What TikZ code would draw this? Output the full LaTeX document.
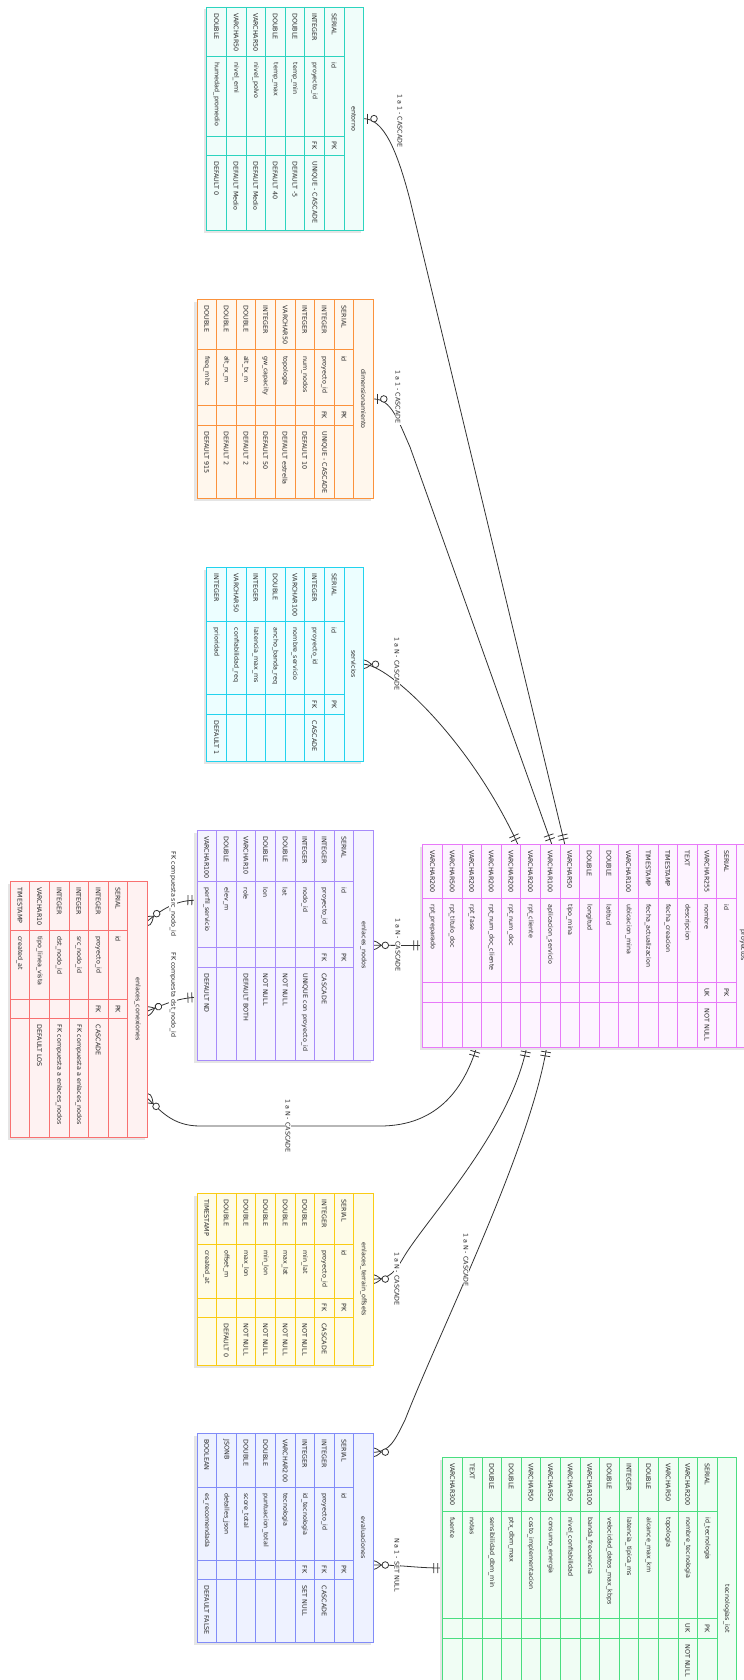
\documentclass[tikz,border=0pt]{standalone}
\usepackage{fontspec}
\setmainfont{DejaVu Sans}
\usetikzlibrary{calc,decorations.markings}
\pgfdeclarelayer{back}
\pgfdeclarelayer{edges}
\pgfsetlayers{back,edges,main}

\definecolor{txtc}{HTML}{2A2A2A}
\definecolor{edgec}{HTML}{333333}
\definecolor{entline}{HTML}{2DD4BF}\definecolor{entfill}{HTML}{F0FDFA}
\definecolor{dimline}{HTML}{FB923C}\definecolor{dimfill}{HTML}{FFF7ED}
\definecolor{srvline}{HTML}{22D3EE}\definecolor{srvfill}{HTML}{ECFEFF}
\definecolor{nodline}{HTML}{A78BFA}\definecolor{nodfill}{HTML}{F5F3FF}
\definecolor{cnxline}{HTML}{F87171}\definecolor{cnxfill}{HTML}{FEF2F2}
\definecolor{pryline}{HTML}{E879F9}\definecolor{pryfill}{HTML}{FDF4FF}
\definecolor{terline}{HTML}{FACC15}\definecolor{terfill}{HTML}{FEFCE8}
\definecolor{evlline}{HTML}{818CF8}\definecolor{evlfill}{HTML}{EEF2FF}
\definecolor{tecline}{HTML}{4ADE80}\definecolor{tecfill}{HTML}{F0FDF4}

\newcommand{\rowh}{19.6}
\newcommand{\pad}{6}
\newcommand{\ttlshift}{0}
\newcommand{\erfs}{\fontsize{6.4}{7.5}\selectfont}

\newcommand{\ertab}[5]{%
  \foreach \rr [count=\ii] in {#5} {\xdef\nrows{\ii}}%
  \pgfmathsetmacro{\xR}{#3}%
  \pgfmathsetmacro{\xL}{#3-(\nrows+1)*\rowh}%
  \pgfmathsetmacro{\tbw}{(\nrows+1)*\rowh}%
  \pgfmathsetmacro{\tbh}{\ye-\ya}%
  \fill[black!10] (\xL-2.5,\ya+2.5) rectangle (\xR-2.5,\ye+2.5);%
  \draw[draw=#2line, fill=#2fill, cell] (\xR-\rowh,\ya) rectangle (\xR,\ye);%
  \node[ttl] at (\xR-\rowh/2+\ttlshift,{(\ya+\ye)/2}) {#4};%
  \foreach \ty/\nm/\ky/\cm [count=\ri] in {#5} {%
    \pgfmathsetmacro{\xa}{#3-(\ri+1)*\rowh}%
    \pgfmathsetmacro{\xb}{#3-\ri*\rowh}%
    \pgfmathsetmacro{\xm}{#3-(\ri+0.5)*\rowh}%
    \draw[draw=#2line, fill=#2fill, cell] (\xa,\ya) rectangle (\xb,\yb) (\xa,\yb) rectangle (\xb,\yc) (\xa,\yc) rectangle (\xb,\yd) (\xa,\yd) rectangle (\xb,\ye);%
    \node[txt, anchor=west] at (\xm,\ya+\pad) {\ty};%
    \node[txt, anchor=west] at (\xm,\yb+\pad) {\nm};%
    \node[txt] at (\xm,{(\yc+\yd)/2}) {\ky};%
    \node[txt, anchor=west] at (\xm,\yd+\pad) {\cm};%
  }%
  \node[inner sep=0pt, outer sep=0pt, minimum width=\tbw bp, minimum height=\tbh bp] (#1) at ({(\xL+\xR)/2},{(\ya+\ye)/2}) {};%
}

\tikzset{
  txt/.style={rotate=-90, font=\erfs, text=txtc, inner sep=0pt},
  ttl/.style={rotate=-90, font=\erfs, text=txtc, inner sep=0pt},
  lbl/.style={rotate=-90, font=\erfs, text=txtc, fill=white, inner sep=1pt},
  cell/.style={line width=0.8},
  rel/.style={draw=edgec, line width=0.8},
  mk/.style={draw=edgec, line width=0.8},
  szo/.style={postaction={decorate,decoration={markings,mark=at position 0 with {\draw[mk] (4,-5)--(4,5); \draw[mk,fill=white] (10.5,0) circle (3.3);}}}},
  soo/.style={postaction={decorate,decoration={markings,mark=at position 0 with {\draw[mk] (5,-5)--(5,5) (9,-5)--(9,5);}}}},
  szm/.style={postaction={decorate,decoration={markings,mark=at position 0 with {\draw[mk] (-8,0) .. controls (0,-6) .. (8,0) .. controls (0,6) .. (-8,0); \draw[mk,fill=white] (12,0) circle (3.3);}}}},
  eoo/.style={postaction={decorate,decoration={markings,mark=at position 0.99999 with {\draw[mk] (-5,-5)--(-5,5) (-9,-5)--(-9,5);}}}},
  ezm/.style={postaction={decorate,decoration={markings,mark=at position 0.99999 with {\draw[mk] (8,0) .. controls (0,-6) .. (-8,0) .. controls (0,6) .. (8,0); \draw[mk,fill=white] (-12,0) circle (3.3);}}}}
}

\begin{document}
\begin{tikzpicture}[x=1bp,y=-1bp]
\useasboundingbox (0,0) rectangle (744,1680);
\begin{pgfonlayer}{back}
\fill[white] (0,0) rectangle (744,1680);
\end{pgfonlayer}

% entorno
\def\ya{7}\def\yb{56.5}\def\yc{136}\def\yd{155.3}\def\ye{230.3}
\ertab{entorno}{ent}{363.5}{entorno}{SERIAL/id/PK/{}, INTEGER/proyecto\_id/FK/UNIQUE - CASCADE, DOUBLE/temp\_min/{}/DEFAULT -5, DOUBLE/temp\_max/{}/DEFAULT 40, VARCHAR50/nivel\_polvo/{}/DEFAULT Medio, VARCHAR50/nivel\_emi/{}/DEFAULT Medio, DOUBLE/humedad\_promedio/{}/DEFAULT 0}

% dimensionamiento
\def\ya{299.5}\def\yb{349.8}\def\yc{405}\def\yd{425.3}\def\ye{498.4}
\ertab{dim}{dim}{373.3}{dimensionamiento}{SERIAL/id/PK/{}, INTEGER/proyecto\_id/FK/UNIQUE - CASCADE, INTEGER/num\_nodos/{}/DEFAULT 10, VARCHAR50/topologia/{}/DEFAULT estrella, INTEGER/gw\_capacity/{}/DEFAULT 50, DOUBLE/alt\_tx\_m/{}/DEFAULT 2, DOUBLE/alt\_rx\_m/{}/DEFAULT 2, DOUBLE/freq\_mhz/{}/DEFAULT 915}

% servicios
\def\ya{567.5}\def\yb{621.7}\def\yc{694}\def\yd{714.5}\def\ye{761}
\ertab{serv}{srv}{363.5}{servicios}{SERIAL/id/PK/{}, INTEGER/proyecto\_id/FK/CASCADE, VARCHAR100/nombre\_servicio/{}/{}, DOUBLE/ancho\_banda\_req/{}/{}, INTEGER/latencia\_max\_ms/{}/{}, VARCHAR50/confiabilidad\_req/{}/{}, INTEGER/prioridad/{}/DEFAULT 1}

% enlaces_nodos
\def\ya{830}\def\yb{881.5}\def\yc{947.5}\def\yd{967.3}\def\ye{1060.5}
\ertab{nodos}{nod}{373.3}{enlaces\_nodos}{SERIAL/id/PK/{}, INTEGER/proyecto\_id/FK/CASCADE, INTEGER/nodo\_id/{}/UNIQUE con proyecto\_id, DOUBLE/lat/{}/NOT NULL, DOUBLE/lon/{}/NOT NULL, VARCHAR10/role/{}/DEFAULT BOTH, DOUBLE/elev\_m/{}/{}, VARCHAR100/perfil\_servicio/{}/DEFAULT ND}

% enlaces_conexiones
\def\ya{881}\def\yb{930}\def\yc{999.5}\def\yd{1018.7}\def\ye{1137.3}
\ertab{conex}{cnx}{147.3}{enlaces\_conexiones}{SERIAL/id/PK/{}, INTEGER/proyecto\_id/FK/CASCADE, INTEGER/src\_nodo\_id/{}/FK compuesta a enlaces\_nodos, INTEGER/dst\_nodo\_id/{}/FK compuesta a enlaces\_nodos, VARCHAR10/tipo\_linea\_vista/{}/DEFAULT LOS, TIMESTAMP/created\_at/{}/{}}

% proyectos
\def\ya{844}\def\yb{898.3}\def\yc{982.5}\def\yd{1002.5}\def\ye{1047}
\renewcommand{\ttlshift}{-3.5}
\ertab{proy}{pry}{755.9}{proyectos}{SERIAL/id/PK/{}, VARCHAR255/nombre/UK/NOT NULL, TEXT/descripcion/{}/{}, TIMESTAMP/fecha\_creacion/{}/{}, TIMESTAMP/fecha\_actualizacion/{}/{}, VARCHAR100/ubicacion\_mina/{}/{}, DOUBLE/latitud/{}/{}, DOUBLE/longitud/{}/{}, VARCHAR50/tipo\_mina/{}/{}, VARCHAR100/aplicacion\_servicio/{}/{}, VARCHAR200/rpt\_cliente/{}/{}, VARCHAR200/rpt\_num\_doc/{}/{}, VARCHAR200/rpt\_num\_doc\_cliente/{}/{}, VARCHAR200/rpt\_fase/{}/{}, VARCHAR500/rpt\_titulo\_doc/{}/{}, VARCHAR200/rpt\_preparado/{}/{}}
\renewcommand{\ttlshift}{0}

% enlaces_terrain_offsets
\def\ya{1193.3}\def\yb{1244}\def\yc{1298}\def\yd{1317.3}\def\ye{1365}
\ertab{terr}{ter}{373.3}{enlaces\_terrain\_offsets}{SERIAL/id/PK/{}, INTEGER/proyecto\_id/FK/CASCADE, DOUBLE/min\_lat/{}/NOT NULL, DOUBLE/max\_lat/{}/NOT NULL, DOUBLE/min\_lon/{}/NOT NULL, DOUBLE/max\_lon/{}/NOT NULL, DOUBLE/offset\_m/{}/DEFAULT 0, TIMESTAMP/created\_at/{}/{}}

% evaluaciones
\def\ya{1433.3}\def\yb{1487}\def\yc{1560}\def\yd{1579.7}\def\ye{1642}
\ertab{eval}{evl}{373.3}{evaluaciones}{SERIAL/id/PK/{}, INTEGER/proyecto\_id/FK/CASCADE, INTEGER/id\_tecnologia/FK/SET NULL, VARCHAR200/tecnologia/{}/{}, DOUBLE/puntuacion\_total/{}/{}, DOUBLE/score\_total/{}/{}, JSONB/detalles\_json/{}/{}, BOOLEAN/es\_recomendada/{}/DEFAULT FALSE}

% tecnologias_iot
\def\ya{1457}\def\yb{1511.3}\def\yc{1618.5}\def\yd{1638.3}\def\ye{1760}
\ertab{tecn}{tec}{736.7}{tecnologias\_iot}{SERIAL/id\_tecnologia/PK/{}, VARCHAR200/nombre\_tecnologia/UK/NOT NULL, VARCHAR50/topologia/{}/{}, DOUBLE/alcance\_max\_km/{}/{}, INTEGER/latencia\_tipica\_ms/{}/{}, DOUBLE/velocidad\_datos\_max\_kbps/{}/{}, VARCHAR100/banda\_frecuencia/{}/{}, VARCHAR50/nivel\_confiabilidad/{}/{}, VARCHAR50/consumo\_energia/{}/{}, VARCHAR50/costo\_implementacion/{}/{}, DOUBLE/ptx\_dbm\_max/{}/{}, DOUBLE/sensibilidad\_dbm\_min/{}/{}, TEXT/notas/{}/{}, VARCHAR300/fuente/{}/{}}

% relationships
\begin{pgfonlayer}{edges}
\draw[rel,szo,eoo] (entorno.east) .. controls ($(entorno.east)+(20,0)$) and (397,150) .. (410,200) -- ($(proy.north west)+(142,0)$);
\draw[rel,szo,eoo] (dim.east) .. controls ($(dim.east)+(18,0)$) and (398,420) .. (410,447) -- ($(proy.north west)+(129,0)$);
\draw[rel,szm,eoo] (serv.east) .. controls ($(serv.east)+(25,0)$) and (470,740) .. ($(proy.north west)+(95,0)$);
\draw[rel,szm,eoo] (nodos.east) -- (proy.west);
\draw[rel,soo,ezm] ($(nodos.west)+(0,-45)$) .. controls (178,900) and (165,907) .. ($(conex.east)+(0,-88)$);
\draw[rel,soo,ezm] ($(nodos.west)+(0,52)$) .. controls (178,998) and (165,1004) .. ($(conex.east)+(0,2)$);
\draw[rel,soo,ezm] ($(proy.south west)+(54,0)$) .. controls (465,1085) and (440,1126) .. (380,1126) -- (200,1126) .. controls (172,1126) and (160,1110) .. ($(conex.east)+(0,89)$);
\draw[rel,soo,ezm] ($(proy.south west)+(104,0)$) .. controls (510,1130) and (430,1215) .. (405,1255) .. controls (395,1272) and (390,1279) .. (terr.east);
\draw[rel,soo,ezm] ($(proy.south west)+(124,0)$) .. controls (530,1150) and (440,1330) .. (405,1420) .. controls (395,1440) and (390,1452) .. ($(eval.north east)+(0,19)$);
\draw[rel,szm,eoo] ($(eval.north east)+(0,131.7)$) .. controls (405,1565) and (415,1568) .. ($(tecn.north west)+(0,111)$);
\end{pgfonlayer}

% relationship labels
\node[lbl] (l1) at (400,121) {1 a 1 - CASCADE};
\node[lbl] (l2) at (398,397) {1 a 1 - CASCADE};
\node[lbl] (l3) at (397,664) {1 a N - CASCADE};
\node[lbl] (l4) at (398,945) {1 a N - CASCADE};
\node[lbl] (l5) at (173,894) {FK compuesta src\_nodo\_id};
\node[lbl] (l6) at (173,995) {FK compuesta dst\_nodo\_id};
\node[lbl] (l7) at (288,1126) {1 a N - CASCADE};
\node[lbl] (l8) at (397,1279) {1 a N - CASCADE};
\node[lbl] (l9) at (466,1260) {1 a N - CASCADE};
\node[lbl] (l10) at (397,1565) {N a 1 - SET NULL};
\end{tikzpicture}
\end{document}
